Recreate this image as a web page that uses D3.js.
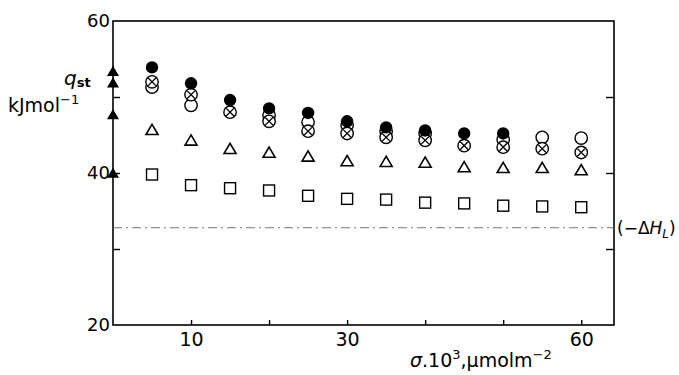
<!DOCTYPE html>
<html>
<head>
<meta charset="utf-8">
<script src="https://cdn.jsdelivr.net/npm/d3@7"></script>
<style>
  body { margin: 0; background: #fff; }
  svg text { font-family: "DejaVu Sans", sans-serif; fill: #000; }
</style>
</head>
<body>
<svg id="chart" width="679" height="375"></svg>
<script>
// surface coverage (sigma * 10^3, umol m^-2)
const sigma = [5, 10, 15, 20, 25, 30, 35, 40, 45, 50, 55, 60];

// q_st series, kJ/mol (null = point hidden behind another marker)
const filledCircle = [53.9, 51.8, 49.6, 48.5, 47.9, 46.8, 46.0, 45.6, 45.2, 45.2, null, null];
const openCircle   = [51.3, 48.9, null, 47.6, 46.7, 46.3, 45.5, 45.2, null, 44.4, 44.7, 44.6];
const crossCircle  = [52.0, 50.3, 48.0, 46.8, 45.5, 45.2, 44.7, 44.3, 43.6, 43.4, 43.2, 42.7];
const triangles    = [45.6, 44.2, 43.1, 42.6, 42.1, 41.5, 41.4, 41.3, 40.7, 40.6, 40.6, 40.3];
const squares      = [39.8, 38.4, 38.0, 37.7, 37.0, 36.6, 36.5, 36.1, 36.0, 35.7, 35.6, 35.5];

// zero-coverage values marked on the axis
const axisTriangles = [53.3, 51.8, 47.6, 39.9];

// heat of liquefaction line
const deltaHL = 32.8;

const xTickLabels = [10, 30, 60];
const xTicks = [10, 20, 30, 40, 50, 60];
const yTickLabels = [20, 40, 60];
const yTicks = [30, 40, 50];

const width = 679, height = 375;
const margin = { top: 21, right: 65, bottom: 50, left: 113 };

const svg = d3.select('#chart');

const x = d3.scaleLinear()
    .domain([0, 64.2])
    .range([margin.left, width - margin.right]);

const y = d3.scaleLinear()
    .domain([20, 60])
    .range([height - margin.bottom, margin.top]);

// frame
svg.append('rect')
    .attr('x', x(0))
    .attr('y', y(60))
    .attr('width', x(64.2) - x(0))
    .attr('height', y(20) - y(60))
    .attr('fill', 'none')
    .attr('stroke', '#000')
    .attr('stroke-width', 1.6);

// bottom ticks, pointing in
const xAxis = d3.axisBottom(x)
    .tickValues(xTicks)
    .tickSize(-5)
    .tickFormat(d => xTickLabels.includes(d) ? d : '');

const xg = svg.append('g')
    .attr('transform', `translate(0,${y(20)})`)
    .call(xAxis);
xg.select('.domain').remove();
xg.selectAll('line').attr('stroke-width', 1.4);
xg.selectAll('text')
    .attr('y', 8)
    .attr('dy', '0.71em')
    .style('font-size', '19px');

// left ticks
const yAxis = d3.axisLeft(y)
    .tickValues(yTicks)
    .tickSize(-7)
    .tickFormat('');
const yg = svg.append('g')
    .attr('transform', `translate(${x(0)},0)`)
    .call(yAxis);
yg.select('.domain').remove();
yg.selectAll('line').attr('stroke-width', 1.4);

// right ticks
const yAxisR = d3.axisRight(y)
    .tickValues(yTicks)
    .tickSize(-8)
    .tickFormat('');
const ygr = svg.append('g')
    .attr('transform', `translate(${x(64.2)},0)`)
    .call(yAxisR);
ygr.select('.domain').remove();
ygr.selectAll('line').attr('stroke-width', 1.4);

// y tick labels
svg.selectAll('.ylab')
    .data(yTickLabels)
    .enter()
    .append('text')
    .attr('class', 'ylab')
    .attr('x', x(0) - 3)
    .attr('y', d => y(d))
    .attr('dy', '0.36em')
    .attr('text-anchor', 'end')
    .style('font-size', '18px')
    .text(d => d);

// y title
const yTitle = svg.append('g');
const q = yTitle.append('text')
    .attr('x', 64)
    .attr('y', 85)
    .style('font-size', '20px');
q.append('tspan').style('font-style', 'italic').text('q');
q.append('tspan').attr('dy', 2).style('font-size', '13px').style('font-weight', 'bold').text('st');

const unit = yTitle.append('text')
    .attr('x', 8)
    .attr('y', 112)
    .style('font-size', '19px');
unit.append('tspan').text('kJmol');
unit.append('tspan').attr('dy', -8).style('font-size', '13px').text('−1');

// x title
const xt = svg.append('text')
    .attr('x', 410)
    .attr('y', 367)
    .style('font-size', '19px');
xt.append('tspan').style('font-style', 'italic').text('σ');
xt.append('tspan').text('.10');
xt.append('tspan').attr('dy', -8).style('font-size', '13px').text('3');
xt.append('tspan').attr('dy', 8).text(',μmolm');
xt.append('tspan').attr('dy', -8).style('font-size', '13px').text('−2');

// -dH_L line
svg.append('line')
    .attr('x1', x(0))
    .attr('x2', x(64.2))
    .attr('y1', y(deltaHL))
    .attr('y2', y(deltaHL))
    .attr('stroke', '#777')
    .attr('stroke-width', 1)
    .attr('stroke-dasharray', '9,4,2,4');

const hl = svg.append('text')
    .attr('x', x(64.2) + 3)
    .attr('y', y(deltaHL))
    .attr('dy', '0.36em')
    .style('font-size', '17px');
hl.append('tspan').text('(−Δ');
hl.append('tspan').style('font-style', 'italic').text('H');
hl.append('tspan').attr('dy', 4).style('font-size', '12px').style('font-style', 'italic').text('L');
hl.append('tspan').attr('dy', -4).text(')');

// markers
const pts = arr => sigma.map((s, i) => ({ s, v: arr[i] })).filter(d => d.v !== null);
const r = 6.2;

function triPath(cx, cy, size) {
    const h = size * 0.85;
    return `M${cx},${cy - h * 0.6}L${cx + size / 2},${cy + h * 0.4}L${cx - size / 2},${cy + h * 0.4}Z`;
}

// squares
svg.append('g').selectAll('rect')
    .data(pts(squares))
    .enter()
    .append('rect')
    .attr('x', d => x(d.s) - 5.5)
    .attr('y', d => y(d.v) - 5.5)
    .attr('width', 11)
    .attr('height', 11)
    .attr('fill', '#fff')
    .attr('stroke', '#000')
    .attr('stroke-width', 1.4);

// triangles
svg.append('g').selectAll('path')
    .data(pts(triangles))
    .enter()
    .append('path')
    .attr('d', d => triPath(x(d.s), y(d.v), 12))
    .attr('fill', '#fff')
    .attr('stroke', '#000')
    .attr('stroke-width', 1.6)
    .attr('stroke-linejoin', 'miter');

// open circles
svg.append('g').selectAll('circle')
    .data(pts(openCircle))
    .enter()
    .append('circle')
    .attr('cx', d => x(d.s))
    .attr('cy', d => y(d.v))
    .attr('r', r)
    .attr('fill', '#fff')
    .attr('stroke', '#000')
    .attr('stroke-width', 1.4);

// crossed circles
const cc = svg.append('g').selectAll('g')
    .data(pts(crossCircle))
    .enter()
    .append('g')
    .attr('transform', d => `translate(${x(d.s)},${y(d.v)})`);
cc.append('circle')
    .attr('r', r)
    .attr('fill', '#fff')
    .attr('stroke', '#000')
    .attr('stroke-width', 1.4);
const k = r * 0.62;
cc.append('path')
    .attr('d', `M${-k},${-k}L${k},${k}M${k},${-k}L${-k},${k}`)
    .attr('stroke', '#000')
    .attr('stroke-width', 1.3);

// filled circles
svg.append('g').selectAll('circle')
    .data(pts(filledCircle))
    .enter()
    .append('circle')
    .attr('cx', d => x(d.s))
    .attr('cy', d => y(d.v))
    .attr('r', r)
    .attr('fill', '#000');

// filled triangles on the axis
svg.append('g').selectAll('path')
    .data(axisTriangles)
    .enter()
    .append('path')
    .attr('d', d => triPath(x(0), y(d), 12))
    .attr('fill', '#000');
</script>
</body>
</html>
